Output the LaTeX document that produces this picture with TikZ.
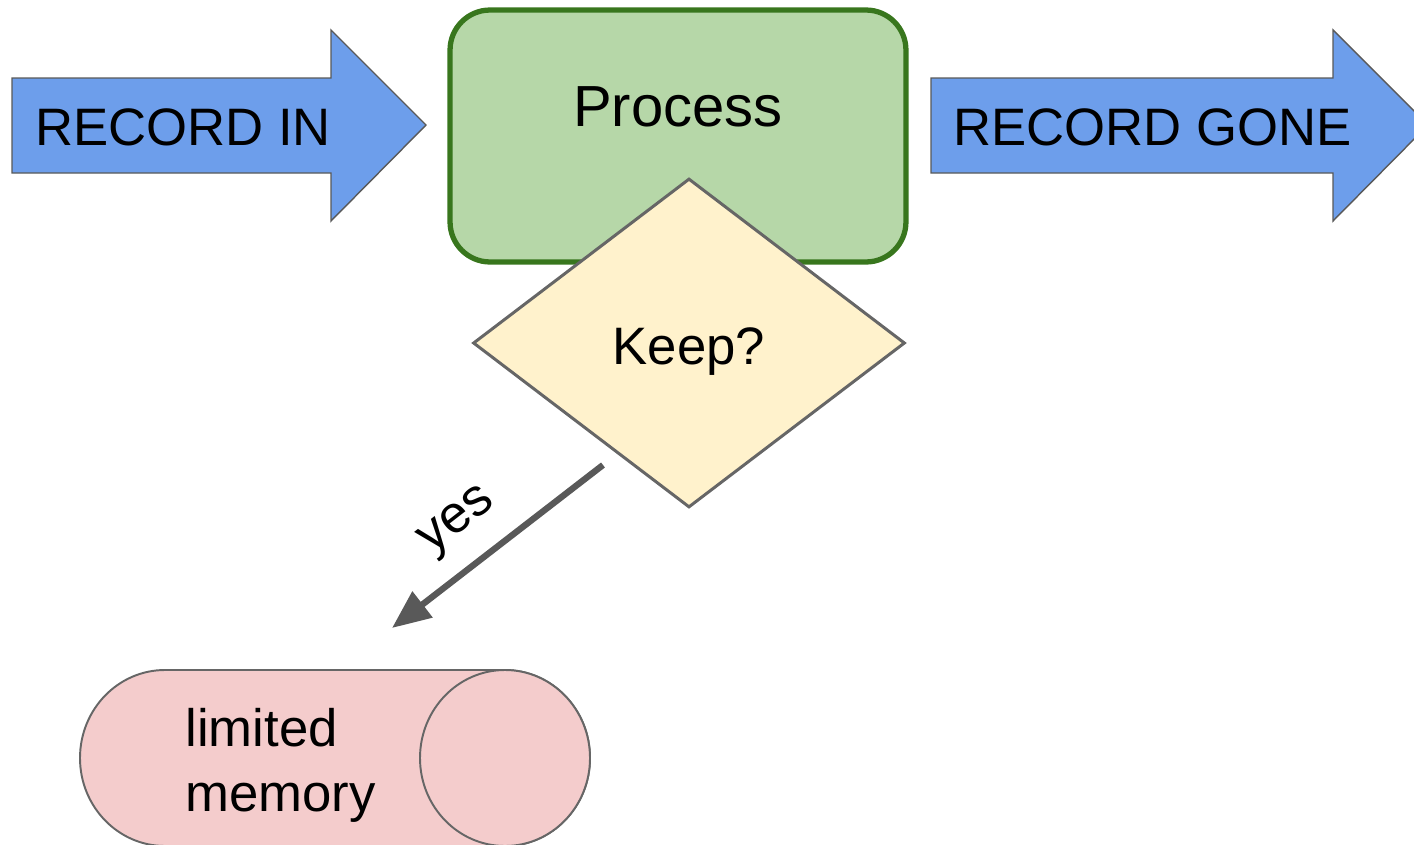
\documentclass[tikz,border=0pt]{standalone}
\usepackage{fontspec}
\setmainfont{Liberation Sans}
\usetikzlibrary{shapes.geometric,arrows.meta}

\definecolor{recblue}{HTML}{6D9EEB}
\definecolor{procgreen}{HTML}{B6D7A8}
\definecolor{procedge}{HTML}{38761D}
\definecolor{keepyellow}{HTML}{FFF2CC}
\definecolor{mempink}{HTML}{F4CCCC}
\definecolor{edgegray}{HTML}{666666}
\definecolor{flowgray}{HTML}{595959}

\tikzset{
  bigarrow/.style={fill=recblue, draw=flowgray, line width=0.8pt},
  txt/.style={font=\fontsize{30}{37}\selectfont, inner sep=0pt},
  procbox/.style={rectangle, rounded corners=0.8cm, fill=procgreen, draw=procedge,
    line width=3pt, minimum width=9.12cm, minimum height=5.04cm, inner sep=0pt},
  keepbox/.style={diamond, fill=keepyellow, draw=edgegray, line width=1.7pt,
    minimum width=8.64cm, minimum height=6.58cm, inner sep=0pt},
  membox/.style={fill=mempink, draw=edgegray, line width=1.1pt},
  flow/.style={draw=flowgray, line width=3.6pt, -{Triangle[length=22pt,width=18pt]}}
}

\begin{document}
\begin{tikzpicture}[x=0.02cm, y=-0.02cm]
  \useasboundingbox (0,0) rectangle (1414,845);

  % record coming in
  \draw[bigarrow] (12,78) -- (331,78) -- (331,30) -- (426,125) -- (331,221)
    -- (331,173) -- (12,173) -- cycle;
  \node[txt, anchor=base west] (recin) at (35,145) {RECORD IN};

  % record going out (tip runs off the page)
  \draw[bigarrow] (931,78) -- (1333,78) -- (1333,30) -- (1428,125) -- (1333,221)
    -- (1333,173) -- (931,173) -- cycle;
  \node[txt, anchor=base west] (recgone) at (953,145) {RECORD GONE};

  % process box with the decision on top of it
  \node[procbox] (proc) at (678,136) {};
  \node[txt, font=\fontsize{33}{40}\selectfont, anchor=base] (proctxt) at (678,126) {Process};
  \node[keepbox] (keep) at (689,343) {};
  \node[txt, anchor=base] (keeptxt) at (689,364) {Keep?};

  % memory store, drawn as a lying cylinder
  \path[membox] (165,670) -- (505,670) arc[start angle=-90, end angle=90, x radius=85, y radius=88]
    -- (165,846) arc[start angle=90, end angle=270, x radius=85, y radius=88] -- cycle;
  \path[membox] (505,758) ellipse [x radius=85, y radius=88];
  \node[txt, anchor=north west, align=left] (mem) at (185,708) {limited\\memory};

  % yes branch
  \coordinate (yesfrom) at (603,465);
  \coordinate (yesto) at (392,628);
  \draw[flow] (yesfrom) -- (yesto);
  \node[txt, rotate=37.7] (yes) at (459,523) {yes};
\end{tikzpicture}
\end{document}
